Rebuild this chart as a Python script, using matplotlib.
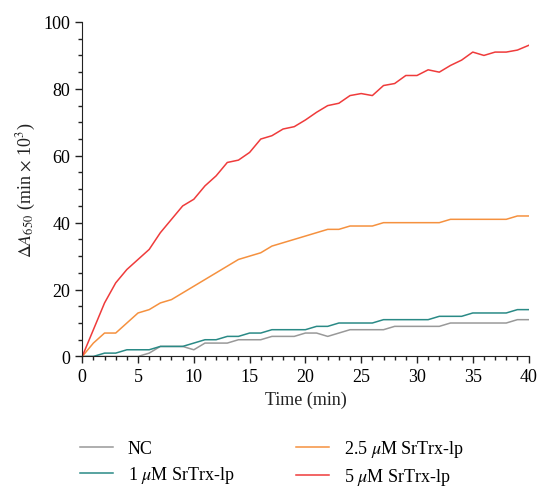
import matplotlib
matplotlib.use('Agg')
import matplotlib.pyplot as plt
from matplotlib.ticker import MultipleLocator

plt.rcParams['font.family'] = ['Liberation Serif', 'DejaVu Serif']
plt.rcParams['mathtext.fontset'] = 'stix'

time = list(range(41))

nc = [0, 0, 0, 0, 0, 0, 1, 3, 3, 3, 2, 4, 4, 4, 5, 5, 5, 6, 6, 6,
      7, 7, 6, 7, 8, 8, 8, 8, 9, 9, 9, 9, 9, 10, 10, 10, 10, 10, 10, 11, 11]
trx_1 = [0, 0, 1, 1, 2, 2, 2, 3, 3, 3, 4, 5, 5, 6, 6, 7, 7, 8, 8, 8,
         8, 9, 9, 10, 10, 10, 10, 11, 11, 11, 11, 11, 12, 12, 12, 13, 13, 13, 13, 14, 14]
trx_25 = [0, 4, 7, 7, 10, 13, 14, 16, 17, 19, 21, 23, 25, 27, 29, 30, 31, 33, 34, 35,
          36, 37, 38, 38, 39, 39, 39, 40, 40, 40, 40, 40, 40, 41, 41, 41, 41, 41, 41, 42, 42]
trx_5 = [0, 8, 16, 22, 26, 29, 32, 37, 41, 45, 47, 51, 54, 58, 58.7, 61, 65, 66, 68, 68.7,
         70.7, 73, 75, 75.7, 78, 78.6, 78, 81, 81.6, 84, 84, 85.7, 85, 87, 88.6, 91, 90, 91, 91, 91.6, 93]

labels = ['NC', r'1 $\mu$M SrTrx-lp', r'2.5 $\mu$M SrTrx-lp', r'5 $\mu$M SrTrx-lp']
colors = ['#999999', '#2a8a86', '#f5913f', '#ef3b3b']

fig = plt.figure(figsize=(5.41, 4.89), dpi=100)
ax = fig.add_axes([0.152, 0.269, 0.825, 0.684])

for y, lab, c in zip([nc, trx_1, trx_25, trx_5], labels, colors):
    ax.plot(time, y, color=c, lw=1.1, label=lab)

ax.set_xlim(0, 40)
ax.set_ylim(0, 100)
ax.xaxis.set_major_locator(MultipleLocator(5))
ax.xaxis.set_minor_locator(MultipleLocator(1))
ax.yaxis.set_major_locator(MultipleLocator(20))
ax.yaxis.set_minor_locator(MultipleLocator(5))
ax.tick_params(which='major', direction='out', length=5, width=1, labelsize=13, color='#222222')
ax.tick_params(which='minor', direction='out', length=3, width=1, color='#222222')
ax.spines['top'].set_visible(False)
ax.spines['right'].set_visible(False)
for s in ['left', 'bottom']:
    ax.spines[s].set_color('#222222')

ax.set_xlabel('Time (min)', fontsize=13, color='#222222')
ax.set_ylabel(r'$\Delta A_{650}$ (min $\times$ 10$^3$)', fontsize=13, color='#222222')

fig.legend(loc='upper left', bbox_to_anchor=(0.148, 0.102), ncol=2, frameon=False,
           fontsize=13, handlelength=1.85, handletextpad=0.8, columnspacing=3.4,
           labelspacing=0.4, borderpad=0, borderaxespad=0)

fig.savefig('out.png', dpi=100)
